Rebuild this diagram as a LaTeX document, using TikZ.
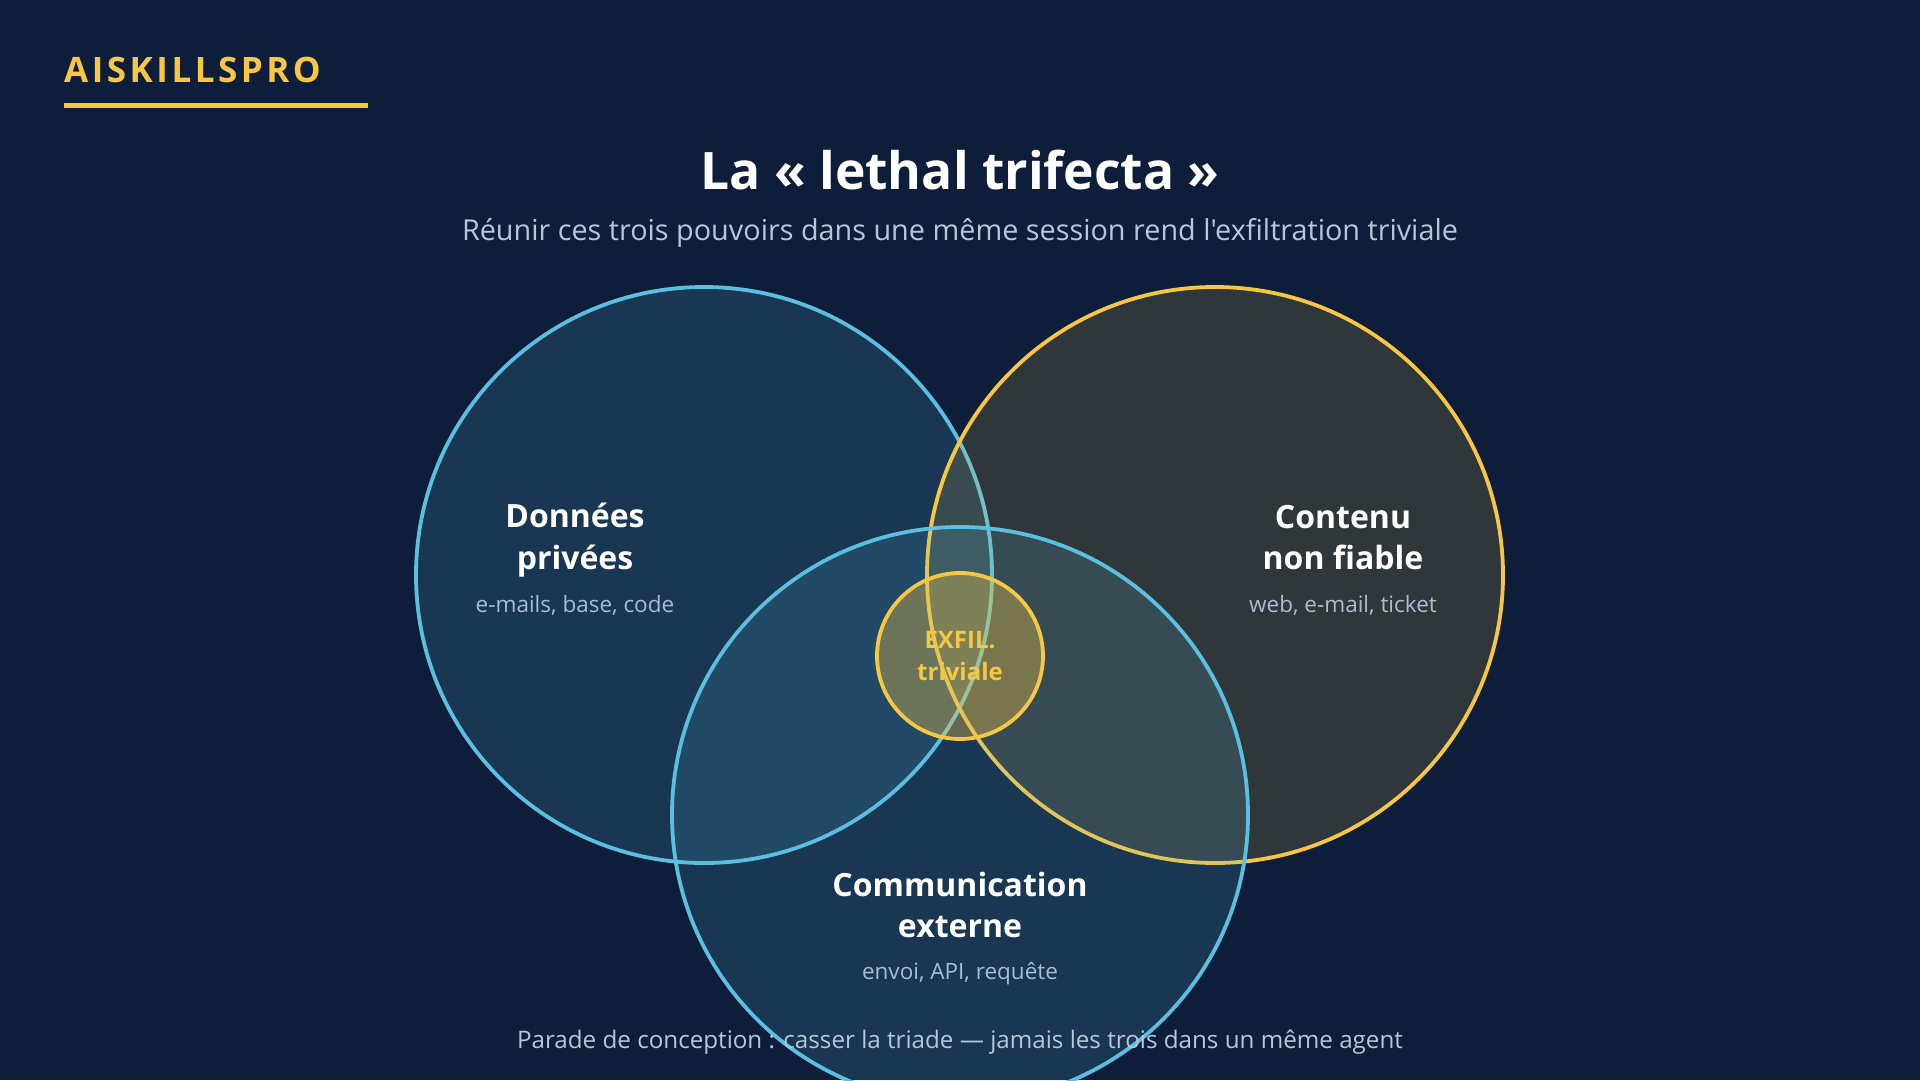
\documentclass[tikz,border=0pt]{standalone}
\usepackage{fontspec}
\setmainfont{Open Sans}[Ligatures=TeXOff]
\usetikzlibrary{positioning}
\definecolor{NavyBg}{HTML}{0E1E3A}
\definecolor{SkyBlue}{HTML}{5BC0E0}
\definecolor{GoldYellow}{HTML}{F7C744}
\definecolor{MutedBlue}{HTML}{A9BCD2}
\definecolor{PaleGray}{HTML}{B8C6D8}

\begin{document}
\begin{tikzpicture}[
    x=1pt, y=-1pt,
    venn/.style={circle, line width=3.8pt, minimum size=576pt, inner sep=0pt, fill opacity=0.15, draw opacity=1},
    core/.style={circle, line width=3.8pt, minimum size=166pt, inner sep=0pt, draw=GoldYellow, fill=GoldYellow, fill opacity=0.35, draw opacity=1},
    head/.style={align=center, text=white, inner sep=0pt, font=\fontsize{32}{41.5}\selectfont\bfseries},
    sub/.style={text=MutedBlue, inner sep=0pt, font=\fontsize{22.5}{26}\selectfont},
]
\useasboundingbox[fill=NavyBg] (0,0) rectangle (1920,1080);

% marque
\node[anchor=west, inner sep=0pt, text=GoldYellow, font=\fontsize{35}{40}\selectfont\bfseries\addfontfeatures{LetterSpace=10}] (brand) at (64,70) {AISKILLSPRO};
\coordinate (ulA) at (64,105.5);
\coordinate (ulB) at (368,105.5);
\draw[GoldYellow, line width=5pt] (ulA) -- (ulB);

% titres
\node[text=white, inner sep=0pt, font=\fontsize{51.6}{60}\selectfont\bfseries] (title) at (960,170) {La « lethal trifecta »};
\node[text=PaleGray, inner sep=0pt, font=\fontsize{28.8}{34}\selectfont] (subtitle) at (960,233) {Réunir ces trois pouvoirs dans une même session rend l'exfiltration triviale};

% les trois cercles
\node[venn, draw=SkyBlue, fill=SkyBlue] (priv) at (704,575) {};
\node[venn, draw=GoldYellow, fill=GoldYellow] (untr) at (1215,575) {};
\node[venn, draw=SkyBlue, fill=SkyBlue] (comm) at (960,815) {};
\node[core] (exfil) at (960,656) {};

% textes
\node[head] (privT) at (575,540) {Données\\privées};
\node[sub] (privS) at (575,605) {e-mails, base, code};
\node[head] (untrT) at (1343,537.5) {Contenu\\non fiable};
\node[sub] (untrS) at (1343,605) {web, e-mail, ticket};
\node[head] (commT) at (960,905) {Communication\\externe};
\node[sub] (commS) at (960,974) {envoi, API, requête};
\node[align=center, text=GoldYellow, inner sep=0pt, font=\fontsize{24}{32}\selectfont\bfseries] (exfilT) at (exfil) {EXFIL.\\triviale};

% parade
\node[text=PaleGray, inner sep=0pt, font=\fontsize{24.2}{30}\selectfont] (footer) at (960,1042) {Parade de conception : casser la triade — jamais les trois dans un même agent};
\end{tikzpicture}
\end{document}
